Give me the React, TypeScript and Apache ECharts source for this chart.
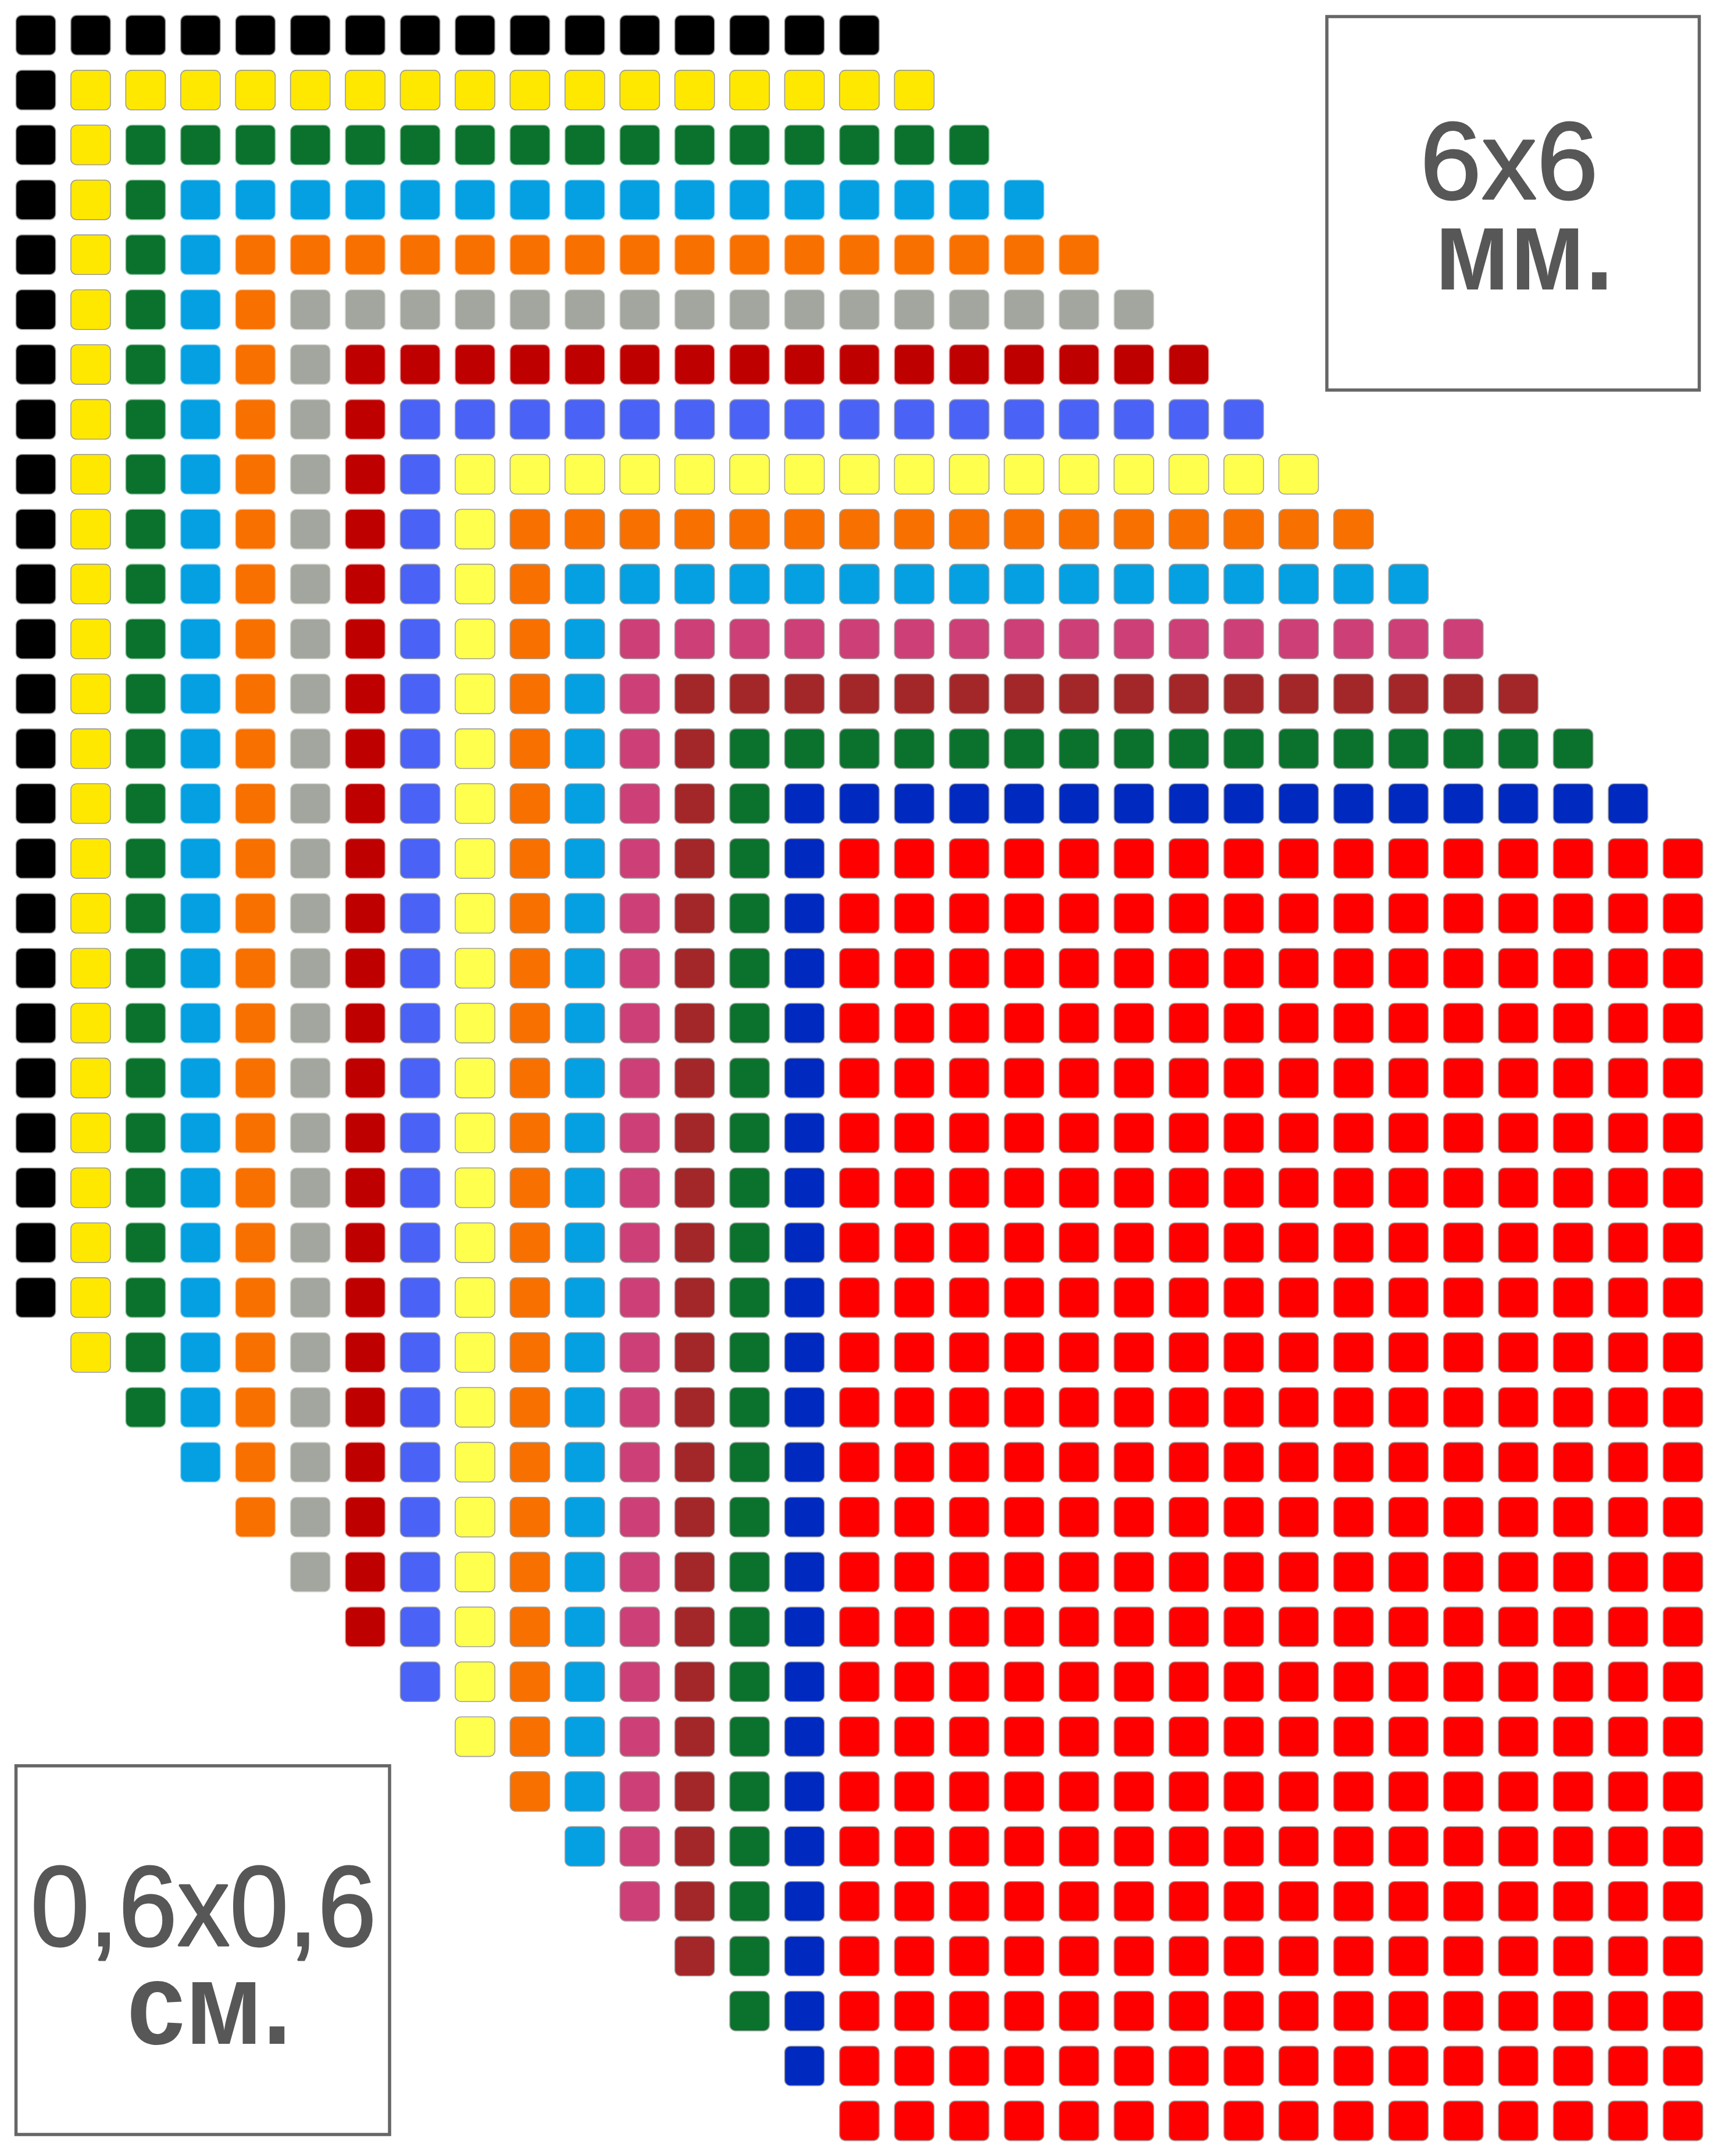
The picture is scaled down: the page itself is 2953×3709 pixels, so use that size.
import React, { useEffect, useRef } from "react";
import * as echarts from "echarts";

// Colours of the nested L-shaped bands, outermost (top-left) first
const BAND_COLORS = [
  "#000000", "#FFE800", "#0A722D", "#04A0E2", "#F77000", "#A2A69E",
  "#BE0000", "#4A62F6", "#FFFF4D", "#F77000", "#04A0E2", "#CC4077",
  "#A32729", "#0A722D", "#0029BF", "#FF0000",
];
const BAND_BORDERS = [
  "#9a9a9a", "#9a9a9a", "#8cc09e", "#8fd2f1", "#f9bb8c", "#d2d4cf",
  "#e39a9a", "#a0a0a0", "#a0a0a0", "#a0a0a0", "#a0a0a0", "#a0a0a0",
  "#a0a0a0", "#a0a0a0", "#a0a0a0", "#a0a0a0",
];
const NUM_COLS = 31;
const NUM_ROWS = 39;
const ROW_SPAN = 16; // cells in the horizontal arm of each band
const COL_SPAN = 24; // cells in the vertical arm of each band
const LAST_BAND = 15; // fills the remaining block

const LABEL_TOP = ["6x6", "мм."];
const LABEL_BOTTOM = ["0,6x0,6", "см."];

function buildCells(): number[][] {
  const cells: number[][] = [];
  for (let r = 0; r < NUM_ROWS; r++) {
    for (let c = 0; c < NUM_COLS; c++) {
      const k = Math.min(r, c);
      if (k >= LAST_BAND) {
        cells.push([c, r, LAST_BAND]);
      } else if ((r === k && c <= k + ROW_SPAN - 1) || (c === k && r <= k + COL_SPAN - 1)) {
        cells.push([c, r, k]);
      }
    }
  }
  return cells;
}

const W = 2953;
const H = 3709;
const FONT = "'Liberation Sans', Arial, sans-serif";
const TEXT_COLOR = "#575757";
const BOX_COLOR = "#666666";

export default function App() {
  const ref = useRef<HTMLDivElement>(null);
  useEffect(() => {
    document.body.style.margin = "0";
    if (!ref.current) return;
    const chart = echarts.init(ref.current, null, { renderer: "svg" });
    const cells = buildCells();
    chart.setOption({
      animation: false,
      backgroundColor: "#ffffff",
      grid: { left: 14.3, right: 11.3, top: 13.3, bottom: 13.3 },
      xAxis: { type: "value", min: -0.5, max: NUM_COLS - 0.5, show: false },
      yAxis: { type: "value", min: -0.5, max: NUM_ROWS - 0.5, inverse: true, show: false },
      series: [
        {
          type: "custom",
          data: cells,
          encode: { x: 0, y: 1 },
          renderItem: (params: any, api: any) => {
            const p = api.coord([api.value(0), api.value(1)]);
            const s = api.size([1, 1]);
            const w = s[0] * 0.722;
            const h = s[1] * 0.722;
            const k = api.value(2);
            return {
              type: "rect",
              shape: { x: p[0] - w / 2, y: p[1] - h / 2, width: w, height: h, r: 10 },
              style: { fill: BAND_COLORS[k], stroke: BAND_BORDERS[k], lineWidth: 1.6 },
            };
          },
        },
      ],
      graphic: [
        {
          type: "rect",
          shape: { x: 2282, y: 28.4, width: 640.5, height: 642.6 },
          style: { fill: "#ffffff", stroke: BOX_COLOR, lineWidth: 5.5 },
        },
        {
          type: "text",
          x: 2595.5,
          y: 275.9,
          style: {
            text: LABEL_TOP[0], fill: TEXT_COLOR, stroke: TEXT_COLOR, lineWidth: 3,
            font: `190px ${FONT}`, lineHeight: 150,
            align: "center", verticalAlign: "middle",
          },
        },
        {
          type: "text",
          x: 2621,
          y: 429.3,
          scaleX: 0.88,
          style: {
            text: LABEL_TOP[1], fill: TEXT_COLOR, font: `bold 199px ${FONT}`, lineHeight: 150,
            align: "center", verticalAlign: "middle",
          },
        },
        {
          type: "rect",
          shape: { x: 27.5, y: 3037.7, width: 642.5, height: 634.3 },
          style: { fill: "#ffffff", stroke: BOX_COLOR, lineWidth: 5.5 },
        },
        {
          type: "text",
          x: 350,
          y: 3279,
          scaleX: 0.92,
          style: {
            text: LABEL_BOTTOM[0], fill: TEXT_COLOR, stroke: TEXT_COLOR, lineWidth: 3,
            font: `197px ${FONT}`, lineHeight: 150,
            align: "center", verticalAlign: "middle",
          },
        },
        {
          type: "text",
          x: 360,
          y: 3446.7,
          scaleX: 0.9,
          style: {
            text: LABEL_BOTTOM[1], fill: TEXT_COLOR, font: `bold 200px ${FONT}`, lineHeight: 150,
            align: "center", verticalAlign: "middle",
          },
        },
      ],
    });
    return () => chart.dispose();
  }, []);
  return <div ref={ref} style={{ width: W, height: H }} />;
}
